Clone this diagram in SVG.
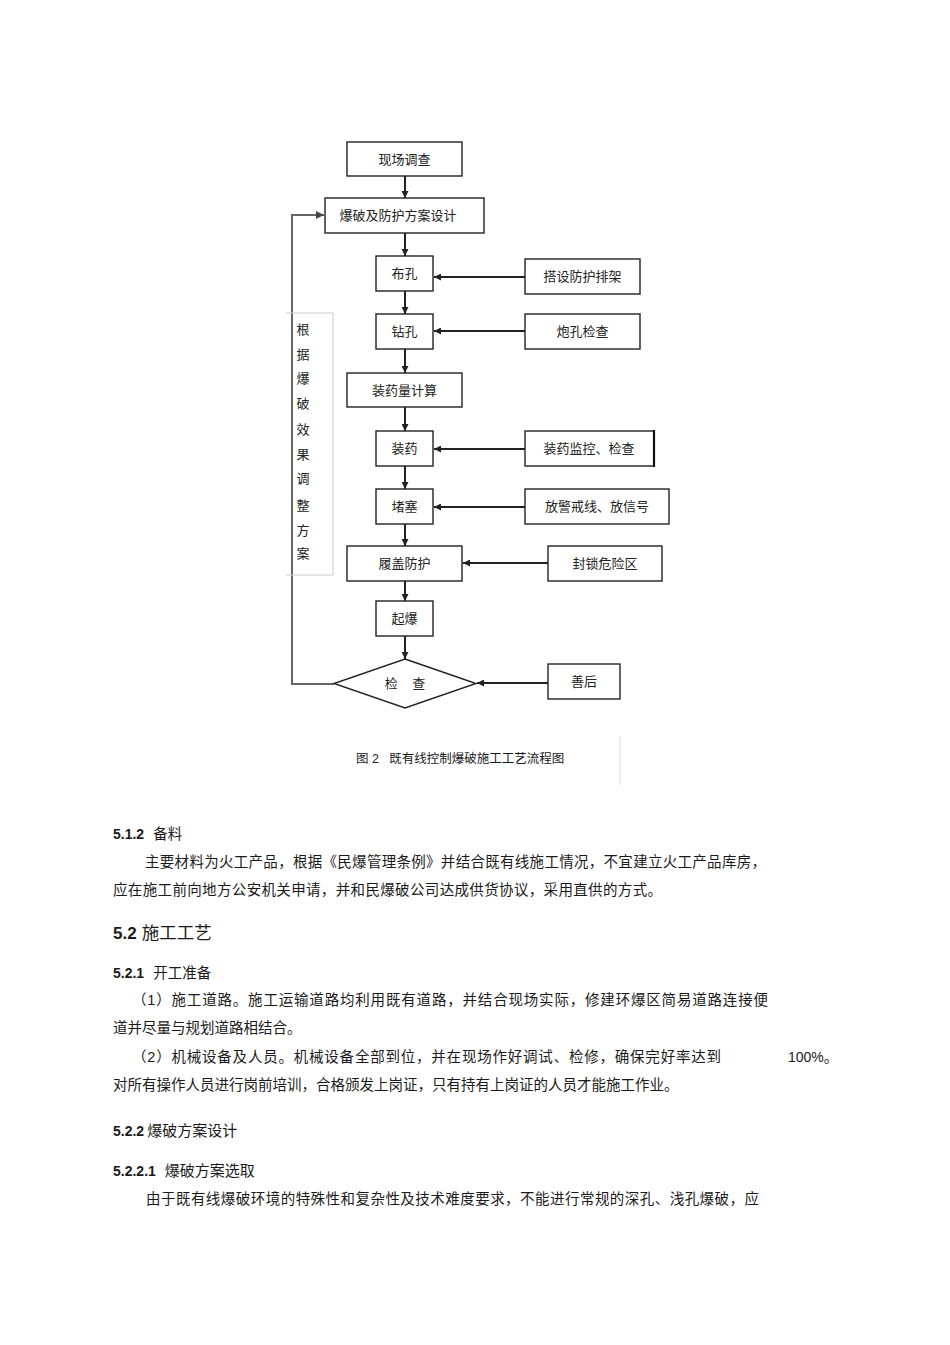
<svg xmlns="http://www.w3.org/2000/svg" width="950" height="1345" viewBox="0 0 950 1345">
<defs>
<style>
.box{fill:#fff;stroke:#222;stroke-width:1.4}
.lbl{font-family:"Liberation Sans","Noto Sans CJK SC",sans-serif;font-size:13px;fill:#222;text-anchor:middle}
.con{fill:none;stroke:#222;stroke-width:2}
.loop{fill:none;stroke:#666;stroke-width:2}
.body{font-family:"Liberation Sans","Noto Sans CJK SC",sans-serif;font-size:14.5px;fill:#1a1a1a}
.num{font-family:"Liberation Sans",sans-serif;font-weight:bold;font-size:14px;fill:#1a1a1a}
</style>
<marker id="ah" viewBox="0 0 10 10" refX="10" refY="5" markerWidth="7" markerHeight="7" markerUnits="userSpaceOnUse" orient="auto">
<path d="M0,0 L10,5 L0,10 z" fill="#222"/>
</marker>
<marker id="ahg" viewBox="0 0 10 10" refX="10" refY="5" markerWidth="8" markerHeight="8" markerUnits="userSpaceOnUse" orient="auto">
<path d="M0,0 L10,5 L0,10 z" fill="#444"/>
</marker>
</defs>
<rect width="950" height="1345" fill="#fff"/>

<g id="connectors">
<line class="con" x1="405" y1="176" x2="405" y2="198" marker-end="url(#ah)"/>
<line class="con" x1="405" y1="233" x2="405" y2="256" marker-end="url(#ah)"/>
<line class="con" x1="405" y1="291" x2="405" y2="314" marker-end="url(#ah)"/>
<line class="con" x1="405" y1="349" x2="405" y2="373" marker-end="url(#ah)"/>
<line class="con" x1="405" y1="407" x2="405" y2="431" marker-end="url(#ah)"/>
<line class="con" x1="405" y1="466" x2="405" y2="489" marker-end="url(#ah)"/>
<line class="con" x1="405" y1="524" x2="405" y2="546" marker-end="url(#ah)"/>
<line class="con" x1="405" y1="581" x2="405" y2="601" marker-end="url(#ah)"/>
<line class="con" x1="405" y1="636" x2="405" y2="659" marker-end="url(#ah)"/>
<line class="con" x1="525" y1="277" x2="434" y2="277" marker-end="url(#ah)"/>
<line class="con" x1="525" y1="331" x2="434" y2="331" marker-end="url(#ah)"/>
<line class="con" x1="525" y1="449" x2="434" y2="449" marker-end="url(#ah)"/>
<line class="con" x1="525" y1="507" x2="434" y2="507" marker-end="url(#ah)"/>
<line class="con" x1="548" y1="563" x2="463" y2="563" marker-end="url(#ah)"/>
<line class="con" x1="548" y1="683" x2="477" y2="683" marker-end="url(#ah)"/>
<polyline class="loop" points="334,684 292,684 292,215 324,215" marker-end="url(#ahg)"/>
</g>

<g id="n-side">
<polyline points="286,313 333,313 333,575 286,575" fill="none" stroke="#ccc" stroke-width="1"/>
<g class="lbl" style="font-size:13px">
<text x="303" y="334">根</text>
<text x="303" y="359">据</text>
<text x="303" y="383">爆</text>
<text x="303" y="408">破</text>
<text x="303" y="434">效</text>
<text x="303" y="459">果</text>
<text x="303" y="483">调</text>
<text x="303" y="510">整</text>
<text x="303" y="535">方</text>
<text x="303" y="558">案</text>
</g>
</g>

<g id="n1"><rect class="box" x="347" y="142" width="115" height="34"/><text class="lbl" x="404.5" y="163.5">现场调查</text></g>
<g id="n2"><rect class="box" x="325" y="198" width="159" height="35"/><text class="lbl" x="398" y="220">爆破及防护方案设计</text></g>
<g id="n3"><rect class="box" x="376" y="256" width="57" height="35"/><text class="lbl" x="404.5" y="278">布孔</text></g>
<g id="n3r"><rect class="box" x="525" y="259" width="115" height="35"/><text class="lbl" x="582.5" y="281">搭设防护排架</text></g>
<g id="n4"><rect class="box" x="376" y="314" width="57" height="35"/><text class="lbl" x="404.5" y="336">钻孔</text></g>
<g id="n4r"><rect class="box" x="525" y="314" width="115" height="35"/><text class="lbl" x="582.5" y="336">炮孔检查</text></g>
<g id="n5"><rect class="box" x="347" y="373" width="115" height="34"/><text class="lbl" x="404.5" y="394.5">装药量计算</text></g>
<g id="n6"><rect class="box" x="376" y="431" width="57" height="35"/><text class="lbl" x="404.5" y="453">装药</text></g>
<g id="n6r"><rect class="box" x="525" y="431" width="129" height="35"/><line x1="654" y1="430" x2="654" y2="467" stroke="#111" stroke-width="2.2"/><text class="lbl" x="589" y="453">装药监控、检查</text></g>
<g id="n7"><rect class="box" x="376" y="489" width="57" height="35"/><text class="lbl" x="404.5" y="511">堵塞</text></g>
<g id="n7r"><rect class="box" x="525" y="489" width="144" height="35"/><text class="lbl" x="597" y="511">放警戒线、放信号</text></g>
<g id="n8"><rect class="box" x="347" y="546" width="115" height="35"/><text class="lbl" x="404.5" y="568">履盖防护</text></g>
<g id="n8r"><rect class="box" x="548" y="546" width="114" height="35"/><text class="lbl" x="605" y="568">封锁危险区</text></g>
<g id="n9"><rect class="box" x="376" y="601" width="57" height="35"/><text class="lbl" x="404.5" y="623">起爆</text></g>
<g id="n10"><polygon class="box" points="405,659 476,683.5 405,708 334,683.5"/><text class="lbl" x="405" y="688" xml:space="preserve">检    查</text></g>
<g id="n10r"><rect class="box" x="548" y="664" width="72" height="35"/><text class="lbl" x="584" y="686">善后</text></g>

<g id="caption">
<text class="body" style="font-size:12.5px" x="356" y="763" xml:space="preserve">图 2   既有线控制爆破施工工艺流程图</text>
<line x1="620" y1="736" x2="620" y2="785" stroke="#ddd" stroke-width="1"/>
</g>

<g id="text">
<text x="113" y="839"><tspan class="num">5.1.2</tspan><tspan class="body" dx="9">备料</tspan></text>
<text class="body" x="145" y="867" textLength="621" lengthAdjust="spacing">主要材料为火工产品，根据《民爆管理条例》并结合既有线施工情况，不宜建立火工产品库房，</text>
<text class="body" x="113" y="895" textLength="549" lengthAdjust="spacing">应在施工前向地方公安机关申请，并和民爆破公司达成供货协议，采用直供的方式。</text>
<text x="113" y="939"><tspan class="num" style="font-size:17px">5.2</tspan><tspan class="body" style="font-size:17.5px" dx="5">施工工艺</tspan></text>
<text x="113" y="978"><tspan class="num">5.2.1</tspan><tspan class="body" dx="9">开工准备</tspan></text>
<text class="body" x="132" y="1005" textLength="636" lengthAdjust="spacing">（1）施工道路。施工运输道路均利用既有道路，并结合现场实际，修建环爆区简易道路连接便</text>
<text class="body" x="113" y="1033">道并尽量与规划道路相结合。</text>
<text class="body" x="132" y="1062" textLength="589" lengthAdjust="spacing">（2）机械设备及人员。机械设备全部到位，并在现场作好调试、检修，确保完好率达到</text>
<text class="body" x="788" y="1062"><tspan font-family="Liberation Sans" font-size="14">100%</tspan>。</text>
<text class="body" x="113" y="1090">对所有操作人员进行岗前培训，合格颁发上岗证，只有持有上岗证的人员才能施工作业。</text>
<text x="113" y="1136"><tspan class="num">5.2.2</tspan><tspan class="body" dx="3" style="font-size:15px">爆破方案设计</tspan></text>
<text x="113" y="1176"><tspan class="num">5.2.2.1</tspan><tspan class="body" dx="9" style="font-size:15px">爆破方案选取</tspan></text>
<text class="body" x="146" y="1204" textLength="613" lengthAdjust="spacing">由于既有线爆破环境的特殊性和复杂性及技术难度要求，不能进行常规的深孔、浅孔爆破，应</text>
</g>
</svg>
